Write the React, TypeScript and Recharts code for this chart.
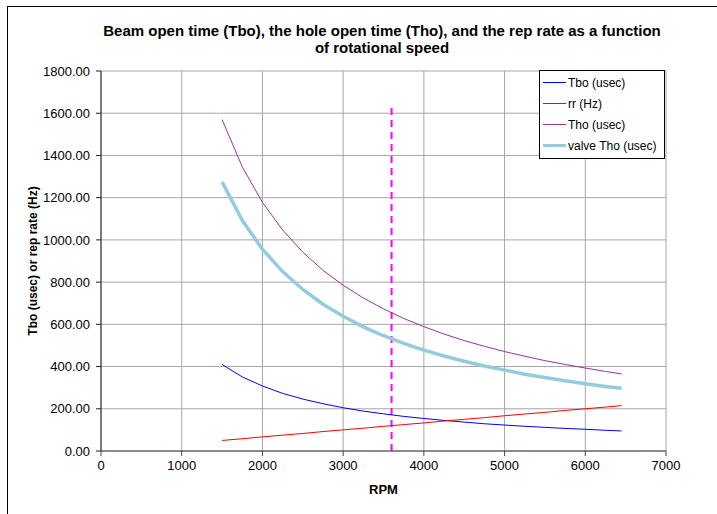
import React from "react";
import {
  LineChart,
  Line,
  XAxis,
  YAxis,
  CartesianGrid,
  Legend,
  ReferenceLine,
} from "recharts";

// RPM samples and the values
const rpm = [1500, 1750, 2000, 2250, 2500, 2750, 3000, 3250, 3500, 3750, 4000, 4250, 4500, 4750, 5000, 5250, 5500, 5750, 6000, 6250, 6450];
const tbo = [410, 351, 308, 273, 246, 224, 205, 189, 176, 164, 154, 145, 137, 129, 123, 117, 112, 107, 103, 98, 95];
const rr = [50, 58, 67, 75, 83, 92, 100, 108, 117, 125, 133, 142, 150, 158, 167, 175, 183, 192, 200, 208, 215];
const tho = [1570, 1346, 1178, 1047, 942, 856, 785, 725, 673, 628, 589, 554, 523, 496, 471, 449, 428, 410, 393, 377, 365];
const valveTho = [1275, 1093, 956, 850, 765, 695, 638, 588, 546, 510, 478, 450, 425, 403, 383, 364, 348, 333, 319, 306, 297];

// dashed marker at the operating speed
const markerRpm = 3600;
const markerTop = 1640;

const xTicks = [0, 1000, 2000, 3000, 4000, 5000, 6000, 7000];
const yTicks = [0, 200, 400, 600, 800, 1000, 1200, 1400, 1600, 1800];
const xMinorTicks = Array.from({ length: 36 }, (_, i) => i * 200);
const yMinorTicks = Array.from({ length: 46 }, (_, i) => i * 40);

const data = rpm.map((r, i) => ({
  rpm: r,
  tbo: tbo[i],
  rr: rr[i],
  tho: tho[i],
  valveTho: valveTho[i],
}));

const series = [
  { key: "tbo", name: "Tbo (usec)", color: "#0000ff", width: 1 },
  { key: "rr", name: "rr (Hz)", color: "#ff0000", width: 1 },
  { key: "tho", name: "Tho (usec)", color: "#993399", width: 1 },
  { key: "valveTho", name: "valve Tho (usec)", color: "#93cddd", width: 3.5 },
];

const font = "'Liberation Sans', Arial, sans-serif";

function LegendBox() {
  return (
    <div
      style={{
        width: 124,
        height: 86,
        border: "1px solid #000",
        background: "#fff",
        fontFamily: font,
        fontSize: 12,
        color: "#000",
        boxSizing: "content-box",
        paddingTop: 1,
      }}
    >
      {series.map((s) => (
        <div key={s.key} style={{ display: "flex", alignItems: "center", height: 21 }}>
          <div
            style={{
              marginLeft: 3,
              width: 23,
              height: s.width > 1 ? 3 : 1,
              background: s.color,
            }}
          />
          <span style={{ marginLeft: 2 }}>{s.name}</span>
        </div>
      ))}
    </div>
  );
}

export default function App() {
  return (
    <div style={{ position: "absolute", left: 0, top: 0, width: 717, height: 514, background: "#fff", fontFamily: font }}>
      {/* outer frame */}
      <div style={{ position: "absolute", left: 7, top: 6, width: 720, height: 520, borderLeft: "1px solid #000", borderTop: "1px solid #000" }} />

      <div style={{ position: "absolute", left: 0, top: 22, width: 764, textAlign: "center", fontWeight: "bold", fontSize: 15, lineHeight: "17px", color: "#000" }}>
        Beam open time (Tbo), the hole open time (Tho), and the rep rate as a function
        <br />
        of rotational speed
      </div>

      <div style={{ position: "absolute", left: 100, top: 482, width: 567, textAlign: "center", fontWeight: "bold", fontSize: 13, color: "#000" }}>
        RPM
      </div>

      <div
        style={{
          position: "absolute",
          left: 33,
          top: 261,
          transform: "translate(-50%, -50%) rotate(-90deg)",
          whiteSpace: "nowrap",
          fontWeight: "bold",
          fontSize: 12,
          color: "#000",
        }}
      >
        Tbo (usec) or rep rate (Hz)
      </div>

      <div style={{ position: "absolute", left: 0, top: 0 }}>
        <LineChart width={717} height={514} data={data} margin={{ top: 71, right: 51, bottom: 33, left: 31 }}>
          <CartesianGrid stroke="#a6a6a6" strokeWidth={1} horizontalValues={yTicks} verticalValues={xTicks} />
          <XAxis
            dataKey="rpm"
            type="number"
            domain={[0, 7000]}
            ticks={xTicks}
            allowDataOverflow
            height={30}
            tickSize={5}
            tickMargin={5}
            stroke="#444"
            tick={{ fill: "#000", fontSize: 13, fontFamily: font }}
          />
          <XAxis
            xAxisId="minor"
            type="number"
            domain={[0, 7000]}
            ticks={xMinorTicks}
            allowDataOverflow
            height={0}
            mirror
            tickSize={4}
            tick={false}
            axisLine={false}
            stroke="#444"
          />
          <YAxis
            type="number"
            domain={[0, 1800]}
            ticks={yTicks}
            allowDataOverflow
            width={70}
            tickSize={5}
            tickMargin={6}
            stroke="#222"
            tickFormatter={(v: number) => v.toFixed(2)}
            tick={{ fill: "#000", fontSize: 13, fontFamily: font }}
          />
          <YAxis
            yAxisId="minor"
            type="number"
            domain={[0, 1800]}
            ticks={yMinorTicks}
            allowDataOverflow
            width={0}
            mirror
            tickSize={4}
            tick={false}
            axisLine={false}
            stroke="#222"
          />
          <ReferenceLine
            segment={[
              { x: markerRpm, y: 0 },
              { x: markerRpm, y: markerTop },
            ]}
            stroke="#ff00ff"
            strokeWidth={2}
            strokeDasharray="7 5"
          />
          {series.map((s) => (
            <Line
              key={s.key}
              type="linear"
              dataKey={s.key}
              name={s.name}
              stroke={s.color}
              strokeWidth={s.width}
              dot={false}
              activeDot={false}
              isAnimationActive={false}
            />
          ))}
          <Legend
            layout="vertical"
            align="center"
            verticalAlign="middle"
            content={() => <LegendBox />}
            wrapperStyle={{ position: "absolute", left: 539, top: 70, width: 126, height: 88 }}
          />
        </LineChart>
      </div>
    </div>
  );
}
